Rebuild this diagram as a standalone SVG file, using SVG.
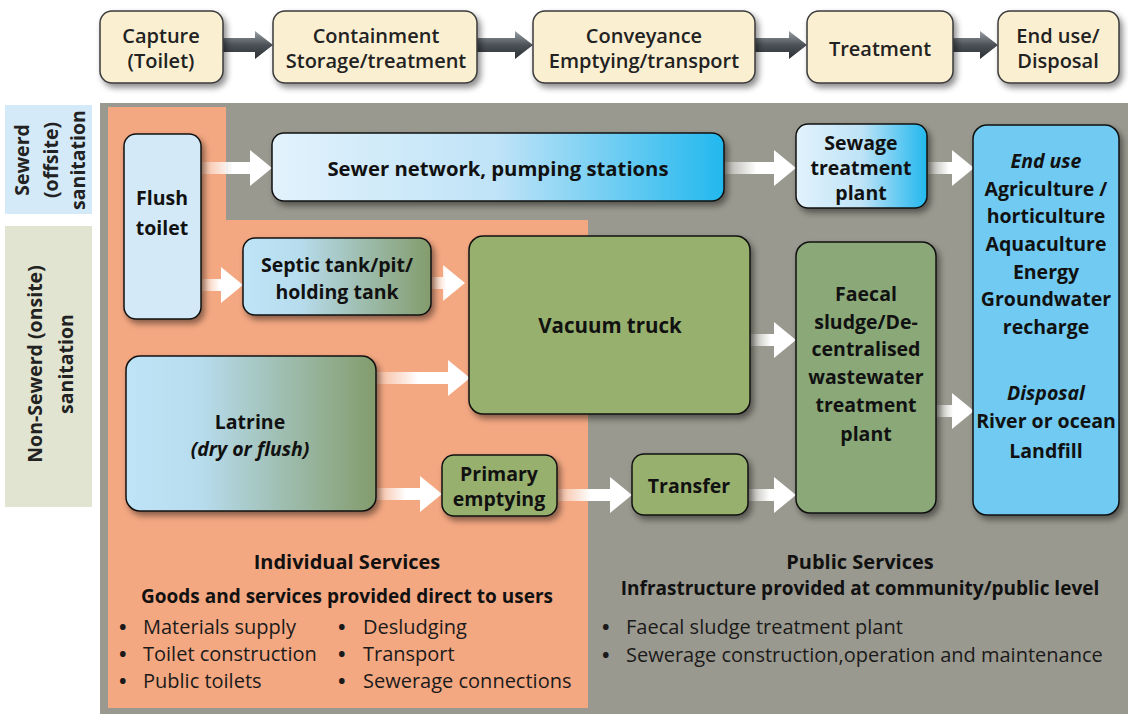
<svg xmlns="http://www.w3.org/2000/svg" width="1128" height="714" viewBox="0 0 1128 714">
<defs>
<filter id="sh" x="-20%" y="-20%" width="150%" height="150%">
<feDropShadow dx="3" dy="4" stdDeviation="3" flood-color="#000" flood-opacity="0.45"/>
</filter>
<linearGradient id="gBlue" x1="0" y1="0" x2="1" y2="0">
<stop offset="0" stop-color="#e2f2fc"/><stop offset="0.5" stop-color="#bfe3f7"/><stop offset="1" stop-color="#22b8ee"/>
</linearGradient>
<linearGradient id="gBG" x1="0" y1="0" x2="1" y2="0">
<stop offset="0" stop-color="#bfe4f7"/><stop offset="0.3" stop-color="#b7dced"/><stop offset="1" stop-color="#839c6c"/>
</linearGradient>
<linearGradient id="gArrW" x1="0" y1="0" x2="1" y2="0">
<stop offset="0" stop-color="#fff" stop-opacity="0.2"/><stop offset="0.45" stop-color="#fff" stop-opacity="1"/><stop offset="1" stop-color="#fff"/>
</linearGradient>
<linearGradient id="gArrD" x1="0" y1="0" x2="0" y2="1">
<stop offset="0" stop-color="#9aa1a6"/><stop offset="0.5" stop-color="#4b5157"/><stop offset="1" stop-color="#2b2f33"/>
</linearGradient>
<style>
text{font-family:"Open Sans","Liberation Sans",sans-serif;fill:#111;}
.top{fill:#fbefd1;stroke:#3a3a3a;stroke-width:1.5;filter:url(#sh);}
.tt{font-size:20px;font-weight:600;text-anchor:middle;fill:#222;}
.nd{stroke:#111;stroke-width:1.5;filter:url(#sh);}
.b{font-size:19.5px;font-weight:bold;text-anchor:middle;}
.bi{font-size:19.5px;font-weight:bold;font-style:italic;text-anchor:middle;}
.lab{font-size:19.5px;font-weight:bold;text-anchor:middle;fill:#222;}
.hd{font-size:20px;font-weight:bold;text-anchor:middle;}
.hs{font-size:19px;font-weight:bold;text-anchor:middle;}
.li{font-size:20px;fill:#1a1a1a;}
.bu{font-size:20px;font-weight:bold;fill:#1a1a1a;}
.wa{fill:url(#gArrW);}
.da{fill:url(#gArrD);}
</style>
</defs>

<!-- backgrounds -->
<rect x="100" y="103" width="1028" height="611" fill="#9a998f"/>
<path d="M108 107 H226 V220 H588 V708 H108 Z" fill="#f4a882"/>
<rect x="5" y="105" width="87" height="109" fill="#d5eaf8"/>
<rect x="5" y="226" width="87" height="281" fill="#e1e4d1"/>
<g id="label-sewered">
<text class="lab" transform="translate(29,160) rotate(-90)">Sewerd</text>
<text class="lab" transform="translate(58,160) rotate(-90)">(offsite)</text>
<text class="lab" transform="translate(85,160) rotate(-90)">sanitation</text>
</g>
<g id="label-nonsewered">
<text class="lab" transform="translate(42,364) rotate(-90)">Non-Sewerd (onsite)</text>
<text class="lab" transform="translate(73,364) rotate(-90)">sanitation</text>
</g>

<!-- connectors -->
<g id="connectors">
<path class="da" d="M223 38 H255 V31 L273 45 L255 59 V52 H223 Z"/>
<path class="da" d="M477 38 H515 V31 L533 45 L515 59 V52 H477 Z"/>
<path class="da" d="M755 38 H789 V31 L807 45 L789 59 V52 H755 Z"/>
<path class="da" d="M953 38 H980 V31 L998 45 L980 59 V52 H953 Z"/>

<path class="wa" d="M201 162 H250 V150 L272 168 L250 186 V174 H201 Z"/>
<path class="wa" d="M201 279 H221 V267 L243 285 L221 303 V291 H201 Z"/>
<path class="wa" d="M431 277 H443 V265 L465 283 L443 301 V289 H431 Z"/>
<path class="wa" d="M376 372 H448 V360 L470 378 L448 396 V384 H376 Z"/>
<path class="wa" d="M376 488 H420 V476 L442 494 L420 512 V500 H376 Z"/>
<path class="wa" d="M557 489 H610 V477 L632 495 L610 513 V501 H557 Z"/>
<path class="wa" d="M748 489 H774 V477 L796 495 L774 513 V501 H748 Z"/>
<path class="wa" d="M724 162 H774 V150 L796 168 L774 186 V174 H724 Z"/>
<path class="wa" d="M928 162 H952 V150 L974 168 L952 186 V174 H928 Z"/>
<path class="wa" d="M750 334 H774 V322 L796 340 L774 358 V346 H750 Z"/>
<path class="wa" d="M936 405 H952 V393 L974 411 L952 429 V417 H936 Z"/>
</g>

<!-- top row -->
<g id="capture"><rect class="top" x="100" y="11" width="123" height="72" rx="12"/>
<text class="tt" x="161" y="43">Capture</text><text class="tt" x="161" y="68">(Toilet)</text></g>
<g id="containment"><rect class="top" x="273" y="11" width="204" height="72" rx="12"/>
<text class="tt" x="376" y="43">Containment</text><text class="tt" x="376" y="68">Storage/treatment</text></g>
<g id="conveyance"><rect class="top" x="533" y="11" width="222" height="72" rx="12"/>
<text class="tt" x="644" y="43">Conveyance</text><text class="tt" x="644" y="68">Emptying/transport</text></g>
<g id="treatment"><rect class="top" x="807" y="11" width="146" height="72" rx="12"/>
<text class="tt" x="880" y="56">Treatment</text></g>
<g id="enduse-top"><rect class="top" x="998" y="11" width="121" height="72" rx="12"/>
<text class="tt" x="1058" y="43">End use/</text><text class="tt" x="1058" y="68">Disposal</text></g>

<!-- nodes -->
<g id="flush-toilet"><rect class="nd" x="124" y="134" width="77" height="185" rx="12" fill="#d3e9f8"/>
<text class="b" x="162" y="205">Flush</text><text class="b" x="162" y="235">toilet</text></g>
<g id="sewer-network"><rect class="nd" x="272" y="133" width="452" height="68" rx="12" fill="url(#gBlue)"/>
<text class="b" x="498" y="176" style="font-size:20.3px">Sewer network, pumping stations</text></g>
<g id="sewage-plant"><rect class="nd" x="796" y="124" width="131" height="84" rx="12" fill="url(#gBlue)"/>
<text class="b" x="861" y="150">Sewage</text><text class="b" x="861" y="175">treatment</text><text class="b" x="861" y="200">plant</text></g>
<g id="end-use"><rect class="nd" x="973" y="125" width="146" height="390" rx="14" fill="#6fcaf2"/>
<text class="bi" x="1046" y="168">End use</text>
<text class="b" x="1046" y="196">Agriculture /</text>
<text class="b" x="1046" y="223">horticulture</text>
<text class="b" x="1046" y="251">Aquaculture</text>
<text class="b" x="1046" y="279">Energy</text>
<text class="b" x="1046" y="306">Groundwater</text>
<text class="b" x="1046" y="334">recharge</text>
<text class="bi" x="1046" y="400">Disposal</text>
<text class="b" x="1046" y="428">River or ocean</text>
<text class="b" x="1046" y="458">Landfill</text></g>
<g id="septic-tank"><rect class="nd" x="243" y="238" width="188" height="77" rx="12" fill="url(#gBG)"/>
<text class="b" x="337" y="272">Septic tank/pit/</text><text class="b" x="337" y="299">holding tank</text></g>
<g id="vacuum-truck"><rect class="nd" x="469" y="236" width="281" height="178" rx="14" fill="#98b06e"/>
<text class="b" x="610" y="333" style="font-size:20.5px">Vacuum truck</text></g>
<g id="faecal-sludge"><rect class="nd" x="796" y="242" width="140" height="271" rx="14" fill="#8aa878"/>
<text class="b" x="866" y="301">Faecal</text>
<text class="b" x="866" y="329">sludge/De-</text>
<text class="b" x="866" y="356">centralised</text>
<text class="b" x="866" y="384">wastewater</text>
<text class="b" x="866" y="412">treatment</text>
<text class="b" x="866" y="441">plant</text></g>
<g id="latrine"><rect class="nd" x="126" y="356" width="250" height="155" rx="14" fill="url(#gBG)"/>
<text class="b" x="250" y="429">Latrine</text><text class="bi" x="250" y="456">(dry or flush)</text></g>
<g id="primary-emptying"><rect class="nd" x="442" y="455" width="115" height="61" rx="12" fill="#98b06e"/>
<text class="b" x="499" y="481">Primary</text><text class="b" x="499" y="506">emptying</text></g>
<g id="transfer"><rect class="nd" x="632" y="454" width="116" height="61" rx="12" fill="#98b06e"/>
<text class="b" x="689" y="493">Transfer</text></g>

<!-- bottom text -->
<g id="individual-services">
<text class="hd" x="347" y="569">Individual Services</text>
<text class="hs" x="347" y="603">Goods and services provided direct to users</text>
<text class="bu" x="119" y="634">•</text><text class="li" x="143" y="634">Materials supply</text>
<text class="bu" x="119" y="661">•</text><text class="li" x="143" y="661">Toilet construction</text>
<text class="bu" x="119" y="688">•</text><text class="li" x="143" y="688">Public toilets</text>
<text class="bu" x="338" y="634">•</text><text class="li" x="363" y="634">Desludging</text>
<text class="bu" x="338" y="661">•</text><text class="li" x="363" y="661">Transport</text>
<text class="bu" x="338" y="688">•</text><text class="li" x="363" y="688">Sewerage connections</text>
</g>
<g id="public-services">
<text class="hd" x="860" y="569">Public Services</text>
<text class="hs" x="860" y="595">Infrastructure provided at community/public level</text>
<text class="bu" x="602" y="634">•</text><text class="li" x="626" y="634">Faecal sludge treatment plant</text>
<text class="bu" x="602" y="662">•</text><text class="li" x="626" y="662">Sewerage construction,operation and maintenance</text>
</g>
</svg>
